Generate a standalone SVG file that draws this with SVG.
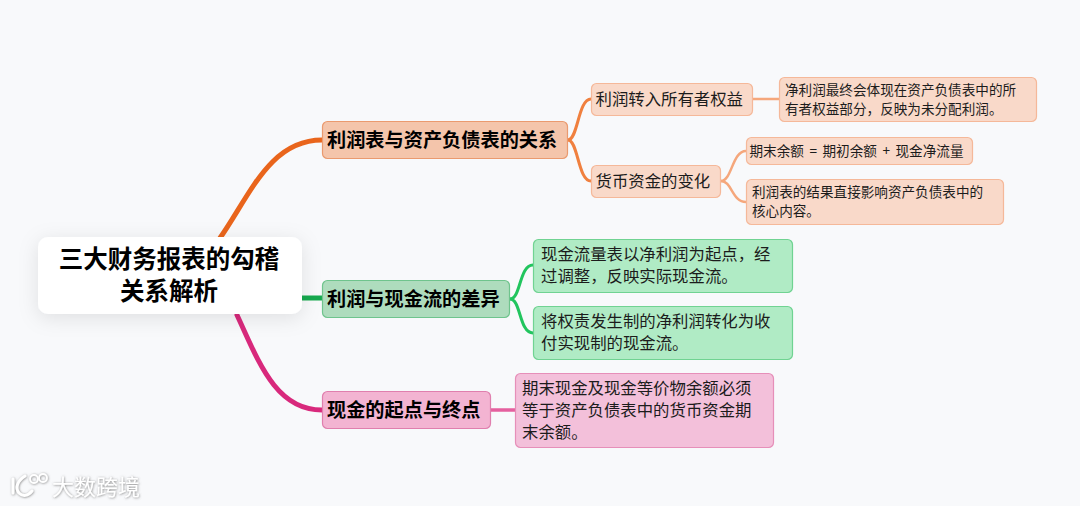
<svg xmlns="http://www.w3.org/2000/svg" width="1080" height="506" viewBox="0 0 1080 506">
<defs>
<style>
text{font-family:"Noto Sans CJK SC","Noto Sans",sans-serif;fill:#1c1c1c}
.r{font-size:24.5px;font-weight:700;fill:#000;text-anchor:middle}
.a{font-size:19.2px;font-weight:700;fill:#000}
.b{font-size:16.4px}
.c{font-size:13.6px}
.o1{fill:#f4c5ab;stroke:#ea9a6f;stroke-width:1.2}
.o2{fill:#f9d9c9;stroke:#f5b899;stroke-width:1.2}
.g1{fill:#aedcbd;stroke:#6fc48d;stroke-width:1.2}
.g2{fill:#b0ebc5;stroke:#70d392;stroke-width:1.2}
.p1{fill:#f3b4d2;stroke:#e07fae;stroke-width:1.2}
.p2{fill:#f3c0da;stroke:#e68fb9;stroke-width:1.2}
.l{fill:none;stroke-linecap:round}
.wm{font-size:22px;font-weight:400;fill:#fff}
.ws{fill:none;stroke:#fff;stroke-linecap:round}
</style>
<filter id="s" x="-15%" y="-40%" width="130%" height="190%"><feDropShadow dx="0" dy="4" stdDeviation="10" flood-color="#000" flood-opacity=".1"/></filter>
<filter id="w" x="-10%" y="-30%" width="120%" height="160%"><feDropShadow dx="0.500" dy="0.500" stdDeviation="1" flood-color="#777" flood-opacity=".9"/></filter>
</defs>
<rect width="1080" height="506" fill="#f8f9fb"/>
<g id="connectors">
<path class="l" d="M220 238C250 195 270 140 322 140" stroke="#e9651c" stroke-width="5"/>
<path class="l" d="M302 298H322" stroke="#16a94f" stroke-width="5"/>
<path class="l" d="M237 315C258 360 275 410 322 410" stroke="#d8297c" stroke-width="5"/>
<path class="l" d="M568 140C578 140 578 99 591 99" stroke="#f0803f" stroke-width="3"/>
<path class="l" d="M568 140C578 140 578 181 591 181" stroke="#f0803f" stroke-width="3"/>
<path class="l" d="M753 99H779" stroke="#f5a77c" stroke-width="2.500"/>
<path class="l" d="M721 181C732 181 732 151 746 151" stroke="#f5a77c" stroke-width="2.500"/>
<path class="l" d="M721 181C732 181 732 202 746 202" stroke="#f5a77c" stroke-width="2.500"/>
<path class="l" d="M510 299C521 299 519 265 533 265" stroke="#22c55e" stroke-width="3"/>
<path class="l" d="M510 299C521 299 519 333 533 333" stroke="#22c55e" stroke-width="3"/>
<path class="l" d="M491 410H515" stroke="#e5609f" stroke-width="3.500"/>
</g>
<g id="root"><rect x="38" y="237" width="264" height="77" rx="10" fill="#fff" filter="url(#s)"/><text class="r" x="169" y="267.500">三大财务报表的勾稽</text><text class="r" x="169" y="299.500">关系解析</text></g>
<g id="n1"><rect class="o1" x="322.500" y="121.500" width="245" height="37" rx="5"/><text class="a" x="327" y="147">利润表与资产负债表的关系</text></g>
<g id="n2"><rect class="g1" x="322.500" y="280.500" width="187" height="37" rx="5"/><text class="a" x="327" y="305.500">利润与现金流的差异</text></g>
<g id="n3"><rect class="p1" x="322.500" y="391.500" width="168" height="37" rx="5"/><text class="a" x="327" y="416.500">现金的起点与终点</text></g>
<g id="n11"><rect class="o2" x="591.500" y="83.500" width="161" height="32" rx="5"/><text class="b" x="595.500" y="104.500">利润转入所有者权益</text></g>
<g id="n12"><rect class="o2" x="591.500" y="165.500" width="129" height="32" rx="5"/><text class="b" x="595.500" y="186.500">货币资金的变化</text></g>
<g id="n111"><rect class="o2" x="779.500" y="77.500" width="257" height="44" rx="5"/><text class="c" x="785" y="95">净利润最终会体现在资产负债表中的所</text><text class="c" x="785" y="114">有者权益部分，反映为未分配利润。</text></g>
<g id="n121"><rect class="o2" x="746.500" y="137.500" width="226" height="27" rx="5"/><text class="c" x="749.500" y="155.500" word-spacing="2.500">期末余额 = 期初余额 + 现金净流量</text></g>
<g id="n122"><rect class="o2" x="746.500" y="179.500" width="257" height="45" rx="5"/><text class="c" x="752" y="197">利润表的结果直接影响资产负债表中的</text><text class="c" x="752" y="216">核心内容。</text></g>
<g id="n21"><rect class="g2" x="533.500" y="239.500" width="259" height="53" rx="5"/><text class="b" x="541" y="260">现金流量表以净利润为起点，经</text><text class="b" x="541" y="282">过调整，反映实际现金流。</text></g>
<g id="n22"><rect class="g2" x="533.500" y="306.500" width="259" height="53" rx="5"/><text class="b" x="541" y="327">将权责发生制的净利润转化为收</text><text class="b" x="541" y="349">付实现制的现金流。</text></g>
<g id="n31"><rect class="p2" x="515.500" y="373.500" width="258" height="74" rx="5"/><text class="b" x="522" y="393.500">期末现金及现金等价物余额必须</text><text class="b" x="522" y="415.500">等于资产负债表中的货币资金期</text><text class="b" x="522" y="437.500">末余额。</text></g>
<g id="watermark" filter="url(#w)"><path class="ws" stroke-width="3" d="M13 479V493"/><path class="ws" stroke-width="3" d="M25 476C17 481 15 488 19 493C23 497 28 496 32 491"/><circle class="ws" cx="34" cy="479" r="4" stroke-width="1.800"/><circle class="ws" cx="43" cy="478" r="4" stroke-width="1.800"/><text class="wm" x="52" y="495">大数跨境</text></g>
</svg>
